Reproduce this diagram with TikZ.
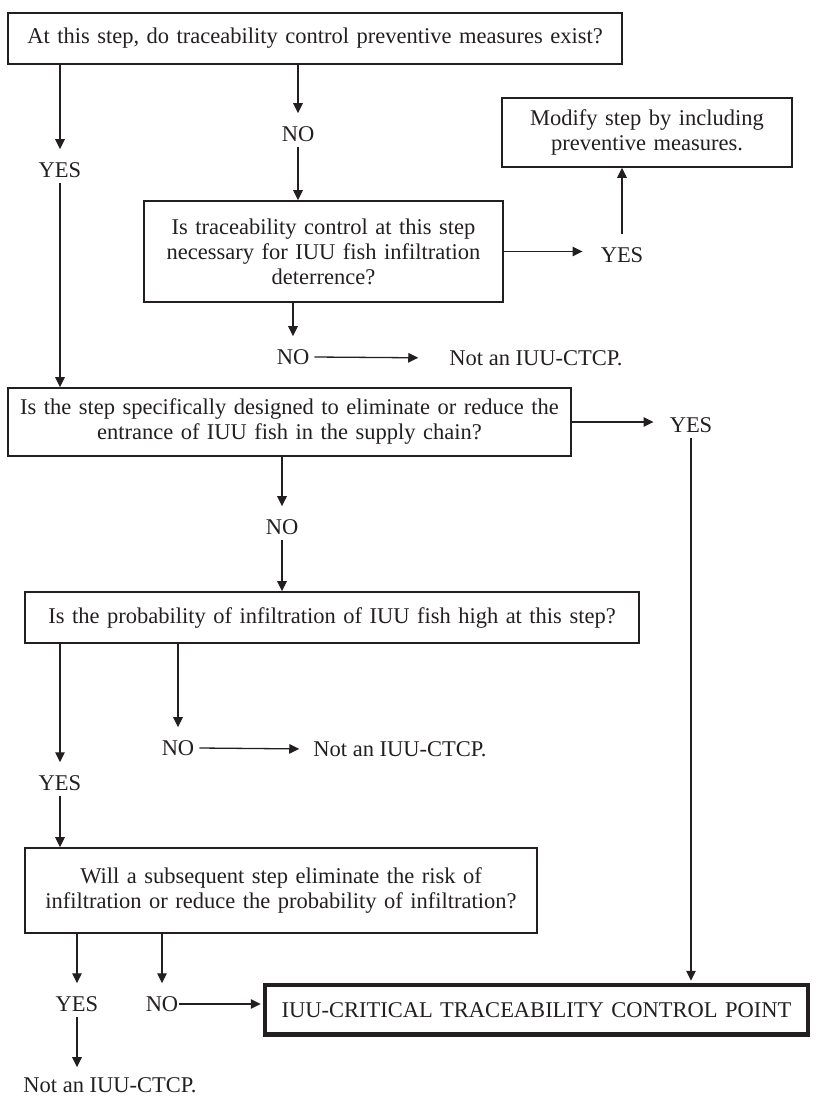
\documentclass[tikz,border=0pt]{standalone}
\usepackage{fontspec}
\setmainfont{Liberation Serif}
\usetikzlibrary{arrows.meta,positioning}
\definecolor{ink}{RGB}{35,31,32}
\newcommand{\chartfont}{\fontsize{22.5}{25}\selectfont}

\begin{document}
\begin{tikzpicture}[x=1pt,y=-1pt,
		box/.style={draw=ink,line width=1.6pt,inner sep=0pt,align=center,font=\chartfont,text=ink},
		lbl/.style={inner sep=5pt,font=\chartfont,text=ink},
		arr/.style={draw=ink,line width=1.3pt,-{Triangle[length=10pt,width=9.5pt]}},
		tolbl/.style={arr,shorten >=8pt}]
	\useasboundingbox (0,0) rectangle (817,1097);
	\node[box,text width=614pt,minimum height=51pt] (q1) at (315,38.5) {At this step, do traceability control preventive measures exist?};
	\node[box,text width=359pt,minimum height=101pt] (q2) at (323.5,251.5) {Is traceability control at this step\\ necessary for IUU fish infiltration\\ deterrence?};
	\node[box,text width=290pt,minimum height=69pt] (fix) at (647,132.5) {Modify step by including\\ preventive measures.};
	\node[box,text width=563pt,minimum height=68pt] (q3) at (289.5,422) {Is the step specifically designed to eliminate or reduce the\\ entrance of IUU fish in the supply chain?};
	\node[box,text width=614pt,minimum height=51pt] (q4) at (332,617.5) {Is the probability of infiltration of IUU fish high at this step?};
	\node[box,text width=512pt,minimum height=85pt] (q5) at (281,890.5) {Will a subsequent step eliminate the risk of\\ infiltration or reduce the probability of infiltration?};
	\node[box,line width=4.5pt,text width=543pt,minimum height=49.5pt] (ctcp) at (536.5,1009.75) {IUU-CRITICAL TRACEABILITY CONTROL POINT};
	\node[lbl] (yesA) at (60,170) {YES};
	\node[lbl] (noA) at (298,134) {NO};
	\node[lbl] (yesB) at (622,255) {YES};
	\node[lbl] (noB) at (293,357) {NO};
	\node[lbl] (notA) at (536,358) {Not an IUU-CTCP.};
	\node[lbl] (yesC) at (691,425) {YES};
	\node[lbl] (noC) at (282,527) {NO};
	\node[lbl] (yesD) at (60,783) {YES};
	\node[lbl] (noD) at (178,748) {NO};
	\node[lbl] (notB) at (400,749) {Not an IUU-CTCP.};
	\node[lbl] (yesE) at (77,1004) {YES};
	\node[lbl] (noE) at (162,1004) {NO};
	\node[lbl] (notC) at (110,1085) {Not an IUU-CTCP.};
	\draw[tolbl] (q1.south -| yesA) -- (yesA.north);
	\draw[arr] (yesA.south) -- (yesA |- q3.north);
	\draw[tolbl] (q1.south -| noA) -- (noA.north);
	\draw[arr] (noA.south) -- (noA |- q2.north);
	\draw[tolbl,shorten >=13pt] (q2.east) -- (q2.east -| yesB.west);
	\draw[arr,shorten <=8pt] (yesB.north) -- (yesB |- fix.south);
	\draw[tolbl] (q2.south -| noB) -- (noB.north);
	\draw[tolbl,shorten >=26pt] (noB.east) -- (notA.west);
	\draw[tolbl,shorten >=11pt] (q3.east) -- (q3.east -| yesC.west);
	\draw[arr,shorten >=2pt] (yesC.south) -- (yesC |- ctcp.north);
	\draw[tolbl] (q3.south -| noC) -- (noC.north);
	\draw[arr] (noC.south) -- (noC |- q4.north);
	\draw[tolbl] (q4.south -| yesD) -- (yesD.north);
	\draw[arr] (yesD.south) -- (yesD |- q5.north);
	\draw[tolbl] (q4.south -| noD) -- (noD.north);
	\draw[tolbl,shorten >=9pt] (noD.east) -- (notB.west);
	\draw[tolbl] (q5.south -| yesE) -- (yesE.north);
	\draw[tolbl,shorten >=5pt] (yesE.south) -- (notC.north -| yesE);
	\draw[tolbl] (q5.south -| noE) -- (noE.north);
	\draw[arr,shorten <=-4pt,shorten >=2pt] (noE.east) -- (noE.east -| ctcp.west);
\end{tikzpicture}
\end{document}
